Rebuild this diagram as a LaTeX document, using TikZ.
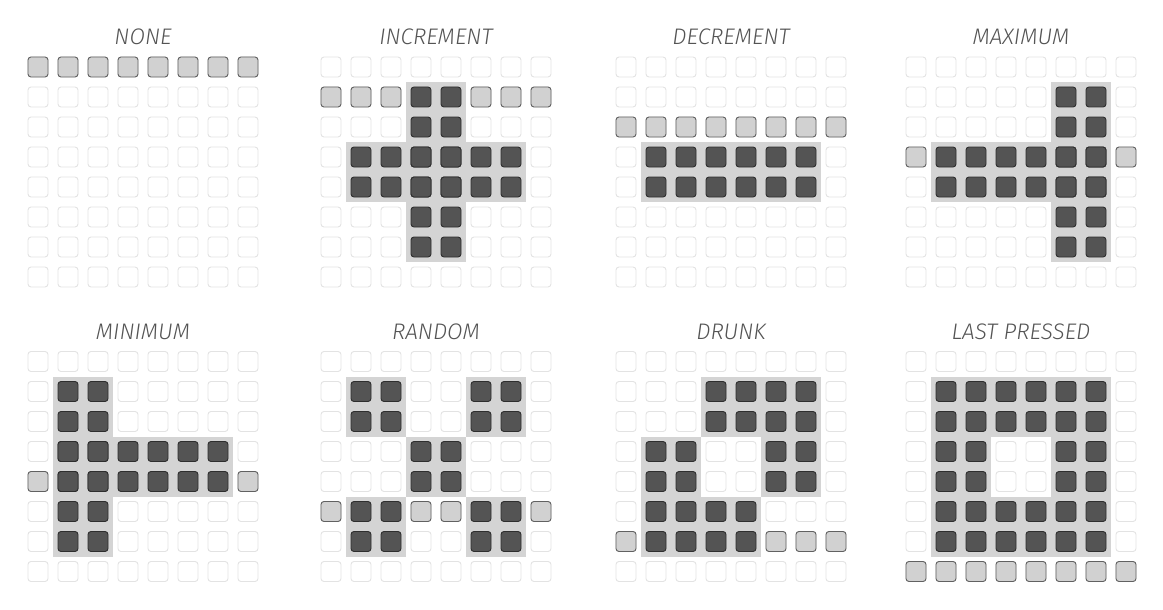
\documentclass[tikz,border=0pt]{standalone}
\usepackage{fontspec}
\newfontfamily\labelfont{Fira Sans}[UprightFont=* Light, ItalicFont=* Light Italic]

% an 8x8 grid of unlit keys, centres 30 apart
\newcommand{\keygrid}{\foreach \i in {0,...,7} \foreach \j in {0,...,7}
	\draw [offkey] (30*\i-10,30*\j-10) rectangle +(20,20);}
% held blocks a/b/c/d = columns a..b, rows c..d
\newcommand{\held}[1]{%
	\foreach \a/\b/\c/\d in {#1}
		\fill [glow] (30*\a-15,30*\c-15) rectangle (30*\b+15,30*\d+15);
	\foreach \a/\b/\c/\d in {#1} \foreach \i in {\a,...,\b} \foreach \j in {\c,...,\d}
		\draw [onkey] (30*\i-10,30*\j-10) rectangle +(20,20);}
% pressed keys of one row
\newcommand{\pressed}[2]{\foreach \i in {#2}
	\draw [litkey] (30*\i-10,30*#1-10) rectangle +(20,20);}

\begin{document}
\begin{tikzpicture}[x=1pt,y=-1pt,
	key/.style={rounded corners=3pt,line width=0.9pt},
	offkey/.style={key,draw=black!11,fill=white},
	litkey/.style={key,draw=black!62,fill=black!18},
	onkey/.style={key,draw=black!82,fill=black!67},
	glow/.style={fill=black!17},
	title/.style={anchor=base,text=black!67,font=\labelfont\itshape\fontsize{22.5}{27}\selectfont}]
\useasboundingbox (0,0) rectangle (1163,610);

% Top row of panels
\begin{scope}[shift={(38,67)}]
\node [title] (none) at (105,-22) {NONE};
\keygrid
\pressed{0}{0,...,7}
\end{scope}

\begin{scope}[shift={(331,67)}]
\node [title] (increment) at (105,-22) {INCREMENT};
\keygrid
\held{3/4/1/6,1/6/3/4}
\pressed{1}{0,1,2,5,6,7}
\end{scope}

\begin{scope}[shift={(626,67)}]
\node [title] (decrement) at (105,-22) {DECREMENT};
\keygrid
\held{1/6/3/4}
\pressed{2}{0,...,7}
\end{scope}

\begin{scope}[shift={(916,67)}]
\node [title] (maximum) at (105,-22) {MAXIMUM};
\keygrid
\held{5/6/1/6,1/6/3/4}
\pressed{3}{0,7}
\end{scope}

% Bottom row of panels
\begin{scope}[shift={(38,361.5)}]
\node [title] (minimum) at (105,-22) {MINIMUM};
\keygrid
\held{1/2/1/6,1/6/3/4}
\pressed{4}{0,7}
\end{scope}

\begin{scope}[shift={(331,361.5)}]
\node [title] (random) at (105,-22) {RANDOM};
\keygrid
\held{1/2/1/2,5/6/1/2,3/4/3/4,1/2/5/6,5/6/5/6}
\pressed{5}{0,3,4,7}
\end{scope}

\begin{scope}[shift={(626,361.5)}]
\node [title] (drunk) at (105,-22) {DRUNK};
\keygrid
\held{3/6/1/2,5/6/3/4,1/2/3/6,3/4/5/6}
\pressed{6}{0,5,6,7}
\end{scope}

\begin{scope}[shift={(916,361.5)}]
\node [title] (lastpressed) at (105,-22) {LAST PRESSED};
\keygrid
\held{1/6/1/2,1/2/3/4,5/6/3/4,1/6/5/6}
\pressed{7}{0,...,7}
\end{scope}

\end{tikzpicture}
\end{document}
